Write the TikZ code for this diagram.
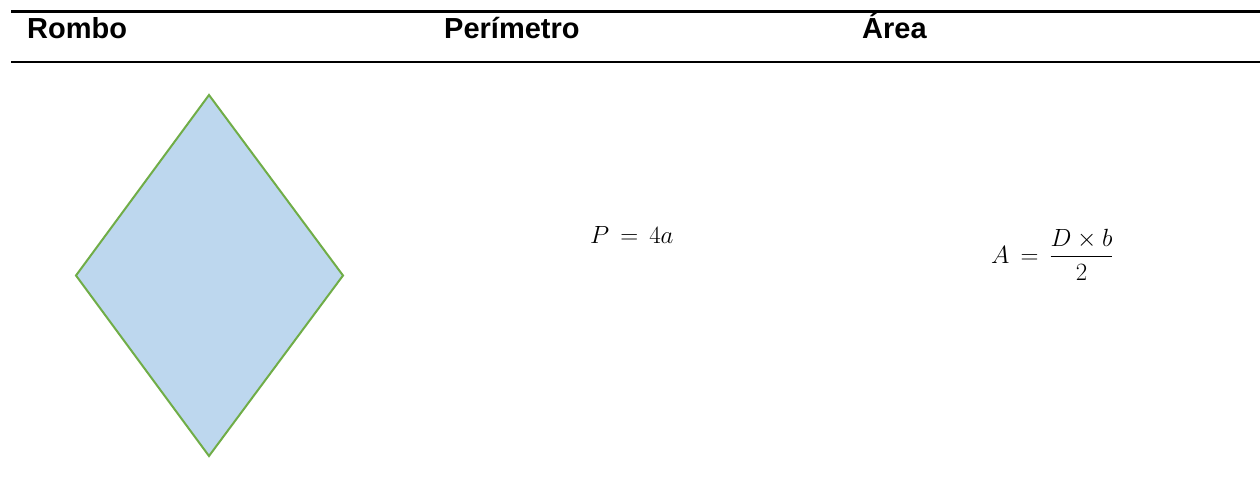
\documentclass[tikz,border=0pt]{standalone}
\usepackage{amsmath}
\usepackage[no-math]{fontspec}
\usepackage{xcolor}
\usepackage{tikz}
\usetikzlibrary{calc}
\newfontfamily\headfont{Liberation Sans}
\definecolor{rfill}{HTML}{BDD7EE}
\definecolor{rline}{HTML}{70AD47}
\tikzset{hdr/.style={anchor=base west,inner sep=0pt,font=\headfont\fontsize{29}{34}\selectfont\bfseries},
  frm/.style={anchor=base west,inner sep=0pt,font=\fontsize{30}{36}\selectfont}}

\begin{document}
\begin{tikzpicture}[x=1pt,y=-1pt]
  \useasboundingbox (0,0) rectangle (1260,500);
  \draw[black,line width=2.2pt] (11,11.5)--(1260,11.5);
  \draw[black,line width=2.2pt] (11,62)--(1260,62);
  \node[hdr] (hrombo) at (27,39) {Rombo};
  \node[hdr] (hperim) at (444,39) {Perímetro};
  \node[hdr] (harea)  at (862,39) {Área};
  \coordinate (T) at (209,95);
  \coordinate (L) at (76,275.5);
  \coordinate (R) at (343,275.5);
  \coordinate (B) at (209,456);
  \draw[rline,fill=rfill,line width=2pt,line join=miter] (T)--(R)--(B)--(L)--cycle;
  \node[frm] (perim) at (590,243) {$P \,=\, 4a$};
  \node[frm] (area)  at (991,263) {$A \,=\, \dfrac{D \times b}{2}$};
\end{tikzpicture}
\end{document}
